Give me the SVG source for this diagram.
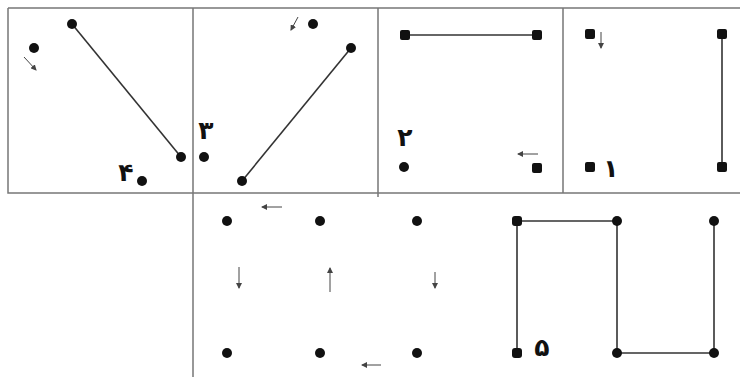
<svg xmlns="http://www.w3.org/2000/svg" width="740" height="377" viewBox="0 0 740 377">
<style>
.frame{stroke:#777;stroke-width:1.5;fill:none}
.edge{stroke:#333;stroke-width:1.6;fill:none}
.arr{stroke:#444;stroke-width:1;fill:none;marker-end:url(#ah)}
.dot{fill:#111}
.lbl{font-family:"DejaVu Sans",sans-serif;font-size:25px;font-weight:bold;fill:#111;text-anchor:middle}
</style>
<defs>
<marker id="ah" markerWidth="6" markerHeight="6" refX="5" refY="3" orient="auto" markerUnits="userSpaceOnUse">
<path d="M0,0 L6,3 L0,6 z" fill="#444"/>
</marker>
</defs>
<rect width="740" height="377" fill="#fff"/>
<g id="frame" class="frame">
<path d="M8,8 H740 M8,8 V193 H740 M193,8 V377 M378,8 V197 M563,8 V193"/>
</g>
<g id="connectors">
<line class="edge" x1="72" y1="24" x2="181" y2="157"/>
<line class="edge" x1="242" y1="181" x2="351" y2="48"/>
<line class="edge" x1="405" y1="35" x2="537" y2="35"/>
<line class="edge" x1="722" y1="34" x2="722" y2="167"/>
<polyline class="edge" points="517,353 517,221 617,221 617,353 714,353 714,221"/>
<line class="arr" x1="24" y1="57" x2="36" y2="70"/>
<line class="arr" x1="298" y1="17" x2="291" y2="30"/>
<line class="arr" x1="538" y1="154" x2="518" y2="154"/>
<line class="arr" x1="601" y1="32" x2="601" y2="48"/>
<line class="arr" x1="282" y1="207" x2="262" y2="207"/>
<line class="arr" x1="239" y1="267" x2="239" y2="288"/>
<line class="arr" x1="330" y1="292" x2="330" y2="268"/>
<line class="arr" x1="435" y1="272" x2="435" y2="288"/>
<line class="arr" x1="381" y1="365" x2="362" y2="365"/>
</g>
<g id="cell1">
<circle class="dot" cx="34" cy="48" r="5"/>
<circle class="dot" cx="72" cy="24" r="5"/>
<circle class="dot" cx="181" cy="157" r="5"/>
<circle class="dot" cx="142" cy="181" r="5"/>
<text class="lbl" x="126" y="181">۴</text>
</g>
<g id="cell2">
<circle class="dot" cx="313" cy="24" r="5"/>
<circle class="dot" cx="351" cy="48" r="5"/>
<circle class="dot" cx="204" cy="157" r="5"/>
<circle class="dot" cx="242" cy="181" r="5"/>
<text class="lbl" x="206" y="139">۳</text>
</g>
<g id="cell3">
<rect class="dot" x="400" y="30" width="10" height="10" rx="2"/>
<rect class="dot" x="532" y="30" width="10" height="10" rx="2"/>
<circle class="dot" cx="404" cy="167" r="5"/>
<rect class="dot" x="532" y="163" width="10" height="10" rx="2"/>
<text class="lbl" x="405" y="146">۲</text>
</g>
<g id="cell4">
<rect class="dot" x="585" y="29" width="10" height="10" rx="2"/>
<rect class="dot" x="717" y="29" width="10" height="10" rx="2"/>
<rect class="dot" x="585" y="162" width="10" height="10" rx="2"/>
<rect class="dot" x="717" y="162" width="10" height="10" rx="2"/>
<text class="lbl" x="611" y="177">۱</text>
</g>
<g id="cell5">
<circle class="dot" cx="227" cy="221" r="5"/>
<circle class="dot" cx="320" cy="221" r="5"/>
<circle class="dot" cx="417" cy="221" r="5"/>
<circle class="dot" cx="227" cy="353" r="5"/>
<circle class="dot" cx="320" cy="353" r="5"/>
<circle class="dot" cx="417" cy="353" r="5"/>
</g>
<g id="cell6">
<rect class="dot" x="512" y="216" width="10" height="10" rx="3"/>
<circle class="dot" cx="617" cy="221" r="5"/>
<circle class="dot" cx="714" cy="221" r="5"/>
<rect class="dot" x="512" y="348" width="10" height="10" rx="3"/>
<circle class="dot" cx="617" cy="353" r="5"/>
<circle class="dot" cx="714" cy="353" r="5"/>
<text class="lbl" x="542" y="356" font-size="28">۵</text>
</g>
</svg>
